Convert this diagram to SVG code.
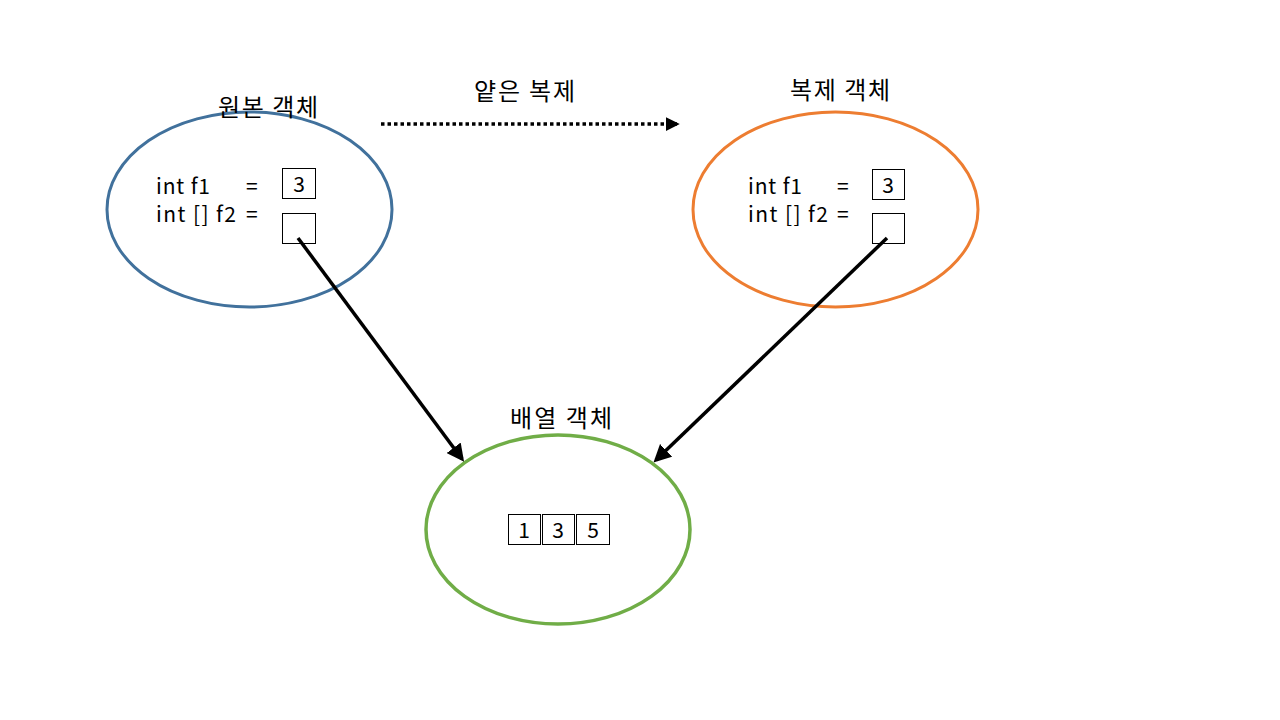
<svg xmlns="http://www.w3.org/2000/svg" width="1280" height="720" viewBox="0 0 1280 720">
<defs>
<style>
text{font-family:"Noto Sans CJK KR","Noto Sans",sans-serif;fill:#000}
.lbl{font-size:24px}
.code{font-size:21px}
.num{font-size:21px;text-anchor:middle}
.box{fill:#fff;stroke:#000;stroke-width:1}
.conn{stroke:#000;stroke-width:3.5;fill:none}
</style>
<marker id="ah" markerWidth="5" markerHeight="5" refX="4" refY="2.5" orient="auto" markerUnits="strokeWidth">
<path d="M0,0 L5,2.5 L0,5 z" fill="#000"/>
</marker>
<marker id="ah2" markerWidth="4" markerHeight="4" refX="3.5" refY="2" orient="auto" markerUnits="strokeWidth">
<path d="M0,0 L4,2 L0,4 z" fill="#000"/>
</marker>
</defs>
<rect width="1280" height="720" fill="#fff"/>

<g id="original">
<ellipse cx="249.5" cy="209.5" rx="142.5" ry="97.5" fill="none" stroke="#41719C" stroke-width="3"/>
<text class="lbl" x="218" y="116" textLength="100" lengthAdjust="spacing">원본 객체</text>
<text class="code" x="156" y="194" textLength="54" lengthAdjust="spacing">int f1</text>
<text class="code" x="246" y="194">=</text>
<text class="code" x="156" y="222" textLength="80" lengthAdjust="spacing">int [] f2</text>
<text class="code" x="246" y="222">=</text>
<rect class="box" x="282.5" y="168.5" width="33" height="30"/>
<text class="num" x="299" y="192">3</text>
<rect class="box" x="282.5" y="213.5" width="33" height="30"/>
</g>

<g id="copy">
<ellipse cx="835.5" cy="209.5" rx="142.5" ry="97.5" fill="none" stroke="#ED7D31" stroke-width="3"/>
<text class="lbl" x="790" y="99" textLength="100" lengthAdjust="spacing">복제 객체</text>
<text class="code" x="748" y="194" textLength="54" lengthAdjust="spacing">int f1</text>
<text class="code" x="837" y="194">=</text>
<text class="code" x="748" y="222" textLength="80" lengthAdjust="spacing">int [] f2</text>
<text class="code" x="837" y="222">=</text>
<rect class="box" x="872.5" y="169.5" width="32" height="30"/>
<text class="num" x="888" y="193">3</text>
<rect class="box" x="872.5" y="213.5" width="32" height="30"/>
</g>

<g id="array">
<ellipse cx="558" cy="529.5" rx="132" ry="94.5" fill="none" stroke="#70AD47" stroke-width="3.5"/>
<text class="lbl" x="510" y="427" textLength="102" lengthAdjust="spacing">배열 객체</text>
<rect class="box" x="508.5" y="514.5" width="32" height="30"/>
<text class="num" x="524" y="538">1</text>
<rect class="box" x="542.5" y="514.5" width="32" height="30"/>
<text class="num" x="558" y="538">3</text>
<rect class="box" x="576.5" y="514.5" width="33" height="30"/>
<text class="num" x="593" y="538">5</text>
</g>

<g id="shallow-label">
<text class="lbl" x="474" y="100" textLength="101" lengthAdjust="spacing">얕은 복제</text>
</g>

<g id="connectors">
<line x1="381" y1="124" x2="678" y2="124" stroke="#000" stroke-width="3.5" stroke-dasharray="3.5 3" marker-end="url(#ah2)"/>
<line class="conn" x1="298" y1="238" x2="462" y2="459" marker-end="url(#ah)"/>
<line class="conn" x1="887" y1="238" x2="656" y2="460" marker-end="url(#ah)"/>
</g>
</svg>
